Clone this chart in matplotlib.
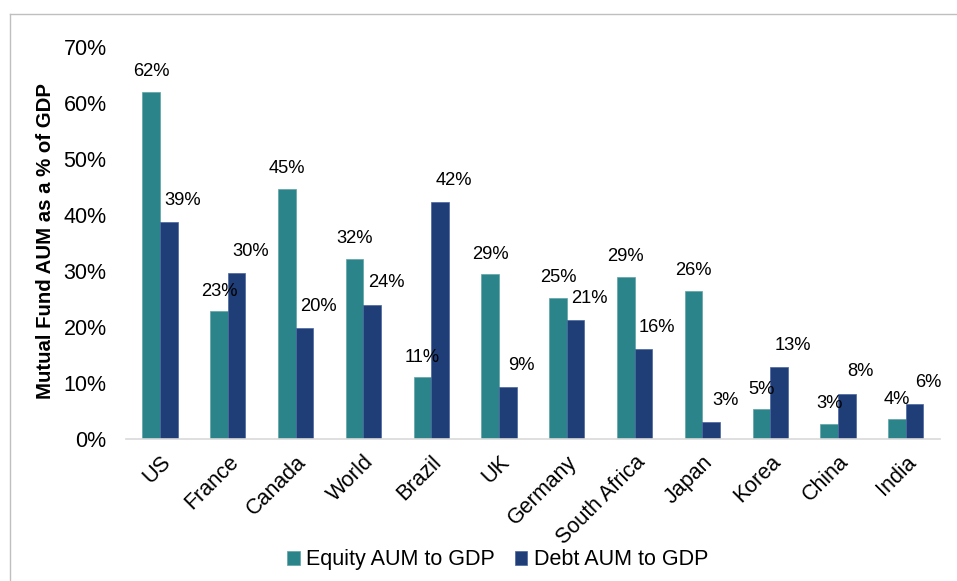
import numpy as np
import matplotlib.pyplot as plt
from matplotlib.lines import Line2D

plt.rcParams['font.family'] = ['Liberation Sans', 'DejaVu Sans']

countries = ['US', 'France', 'Canada', 'World', 'Brazil', 'UK', 'Germany',
             'South Africa', 'Japan', 'Korea', 'China', 'India']
equity = [62, 23, 45, 32, 11, 29, 25, 29, 26, 5, 3, 4]
debt = [39, 30, 20, 24, 42, 9, 21, 16, 3, 13, 8, 6]
equity_height = [62.0, 22.8, 44.7, 32.1, 11.0, 29.4, 25.2, 28.9, 26.5, 5.3, 2.7, 3.5]
debt_height = [38.8, 29.7, 19.8, 24.0, 42.3, 9.2, 21.3, 16.1, 3.0, 12.8, 8.1, 6.3]

teal = '#2A8489'
navy = '#1F3E78'

fig = plt.figure(figsize=(9.57, 5.81), dpi=100)
ax = fig.add_axes([0.1317, 0.2444, 0.8503, 0.6746])

x = np.arange(len(countries))
w = 0.26
ax.bar(x - w / 2, equity_height, w, color=teal, edgecolor='#5FA3A7', linewidth=0.5, label='Equity AUM to GDP')
ax.bar(x + w / 2, debt_height, w, color=navy, edgecolor='#4A64A0', linewidth=0.5, label='Debt AUM to GDP')

for i in range(len(countries)):
    ax.annotate(f'{equity[i]}%', (x[i] - w / 2, equity_height[i]), xytext=(0, 8.5),
                textcoords='offset points', ha='center', va='bottom', fontsize=13.2)
    ax.annotate(f'{debt[i]}%', (x[i] + w / 2, debt_height[i]), xytext=(10, 9.5),
                textcoords='offset points', ha='center', va='bottom', fontsize=13.2)

ax.set_xlim(-0.5, len(countries) - 0.5)
ax.set_ylim(0, 70)
ax.set_yticks(range(0, 71, 10))
ax.set_yticklabels([f'{v}%' for v in range(0, 71, 10)], fontsize=15.5)
ax.set_xticks(x)
ax.set_xticklabels(countries, rotation=45, ha='right', va='top', rotation_mode='anchor', fontsize=15.5)
ax.tick_params(length=0)
ax.tick_params(axis='y', pad=14)
ax.tick_params(axis='x', pad=9)
for s in ['top', 'right', 'left']:
    ax.spines[s].set_visible(False)
ax.spines['bottom'].set_color('#D9D9D9')
ax.spines['bottom'].set_linewidth(1.2)

ax.set_ylabel('Mutual Fund AUM as a % of GDP', fontsize=14.7, fontweight='bold')
ax.yaxis.set_label_coords(-0.087, 0.505)

fig.legend(loc='lower center', bbox_to_anchor=(0.52, -0.015), ncol=2, frameon=False, fontsize=15.5,
           handlelength=0.6, handleheight=0.6, handletextpad=0.3, columnspacing=0.9)

# outer frame (top and left only visible)
fig.add_artist(Line2D([10 / 957, 1], [1 - 14 / 581, 1 - 14 / 581], color='#BFBFBF', lw=1, transform=fig.transFigure))
fig.add_artist(Line2D([10 / 957, 10 / 957], [0, 1 - 14 / 581], color='#BFBFBF', lw=1, transform=fig.transFigure))

fig.savefig('out.png', dpi=100)
